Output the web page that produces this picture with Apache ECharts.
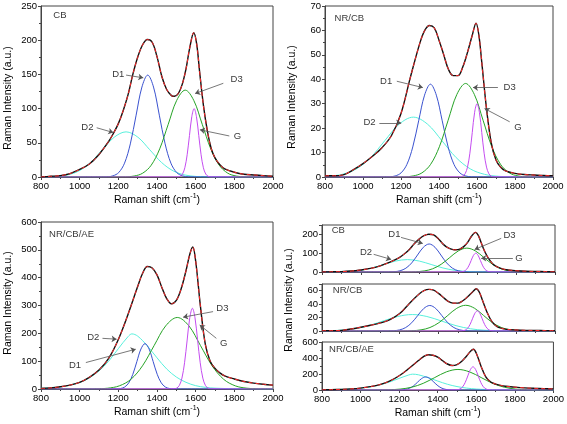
<!DOCTYPE html>
<html><head><meta charset="utf-8">
<script src="https://cdn.jsdelivr.net/npm/echarts/dist/echarts.min.js"></script>
<style>html,body{margin:0;padding:0;background:#fff}#c{width:567px;height:424px}</style>
</head><body><div id="c"></div>
<script>
// ---------- CB ----------
const cbD2 = [[800,0],[813,0.15],[874,0.73],[935,2.9],[996,8.9],[1057,21.4],[1118,40.0],[1179,58.2],[1240,66],[1301,58.2],[1362,40.0],[1423,21.4],[1484,8.9],[1545,2.9],[1606,0.73],[1667,0.15],[2000,0]];
const cbD1 = [[800,0],[1142,0.33],[1172,1.65],[1202,6.5],[1232,20.2],[1262,48.4],[1292,90.4],[1322,131.5],[1352,149],[1382,131.5],[1412,90.4],[1442,48.4],[1472,20.2],[1502,6.5],[1532,1.65],[1562,0.33],[2000,0]];
const cbD3 = [[800,0],[1238,0.28],[1282,1.41],[1326,5.6],[1370,17.2],[1414,41.2],[1458,77.0],[1502,112.1],[1546,127],[1590,112.1],[1634,77.0],[1678,41.2],[1722,17.2],[1766,5.6],[1810,1.41],[1854,0.28],[2000,0]];
const cbG = [[800,0],[1508,0.22],[1520,1.11],[1532,4.39],[1544,13.5],[1556,32.5],[1568,60.7],[1580,88.3],[1592,100],[1604,88.3],[1616,60.7],[1628,32.5],[1640,13.5],[1652,4.39],[1664,1.11],[1676,0.22],[2000,0]];
const cbSpectrum = [[800,0],[850,1],[900,2],[950,5],[1000,11],[1050,19],[1100,33],[1150,52],[1175,64],[1200,78],[1225,97],[1250,120],[1275,150],[1300,175],[1325,193],[1350,201],[1375,197],[1400,176],[1425,147],[1450,128],[1475,119],[1490,118],[1510,122],[1530,135],[1550,158],[1570,190],[1590,211],[1605,195],[1620,155],[1640,105],[1660,68],[1680,42],[1700,28],[1725,18],[1750,12],[1800,7],[1850,4],[1900,3],[1950,2],[2000,1]];

// ---------- NR/CB ----------
const nrD2 = [[800,0.2],[815,0.27],[890,1.08],[965,3.31],[1040,7.96],[1115,14.9],[1190,21.6],[1265,24.5],[1340,21.6],[1415,14.9],[1490,7.96],[1565,3.31],[1640,1.08],[1715,0.27],[1790,0.05],[2000,0]];
const nrD1 = [[800,0],[1138,0.08],[1169,0.42],[1200,1.67],[1231,5.14],[1262,12.3],[1293,23.0],[1324,33.5],[1355,38],[1386,33.5],[1417,23.0],[1448,12.3],[1479,5.14],[1510,1.67],[1541,0.42],[1572,0.08],[2000,0]];
const nrD3 = [[800,0],[1218,0.08],[1264,0.43],[1310,1.68],[1356,5.18],[1402,12.4],[1448,23.2],[1494,33.8],[1540,38.3],[1586,33.8],[1632,23.2],[1678,12.4],[1724,5.18],[1770,1.68],[1816,0.43],[1862,0.08],[2000,0]];
const nrG = [[800,0],[1512.5,0.07],[1525,0.33],[1537.5,1.32],[1550,4.06],[1562.5,9.74],[1575,18.2],[1587.5,26.5],[1600,30],[1612.5,26.5],[1625,18.2],[1637.5,9.74],[1650,4.06],[1662.5,1.32],[1675,0.33],[1687.5,0.07],[2000,0]];
const nrSpectrum = [[800,0.5],[850,0.5],[900,1],[950,3],[1000,5.5],[1050,8.5],[1100,12],[1150,17],[1200,26],[1250,41],[1300,55],[1325,60],[1350,62],[1375,61],[1400,56],[1425,50],[1450,44],[1475,41.5],[1500,41.5],[1525,45],[1550,51],[1575,58],[1595,63],[1610,58],[1625,47],[1650,28],[1675,14],[1700,7],[1725,4],[1750,2.5],[1800,1.5],[1850,1],[1900,0.8],[1950,0.6],[2000,0.5]];

// ---------- NR/CB/AE ----------
const aeD2 = [[800,3],[850,5],[900,8],[950,14],[1000,24],[1050,40],[1100,65],[1150,100],[1200,145],[1250,188],[1270,198],[1300,190],[1350,155],[1400,112],[1450,72],[1500,43],[1550,24],[1600,12],[1650,6],[1700,3],[1800,1],[2000,0]];
const aeD1 = [[800,0],[1191,0.36],[1212,1.81],[1233,7.16],[1254,22.1],[1275,52.9],[1296,98.9],[1317,143.8],[1338,163],[1359,143.8],[1380,98.9],[1401,52.9],[1422,22.1],[1443,7.16],[1464,1.81],[1485,0.36],[2000,0]];
const aeD3 = [[800,0],[1085,0.57],[1145,2.85],[1205,11.3],[1265,34.8],[1325,83.4],[1385,155.9],[1445,226.8],[1505,257],[1565,226.8],[1625,155.9],[1685,83.4],[1745,34.8],[1805,11.3],[1865,2.85],[1925,0.57],[2000,0]];
const aeG = [[800,0],[1488.5,0.64],[1502,3.22],[1515.5,12.7],[1529,39.2],[1542.5,94.2],[1556,175.9],[1569.5,255.9],[1583,290],[1596.5,255.9],[1610,175.9],[1623.5,94.2],[1637,39.2],[1650.5,12.7],[1664,3.22],[1677.5,0.64],[2000,0]];
const aeSpectrum = [[800,2],[850,4],[900,8],[950,14],[1000,24],[1050,42],[1100,68],[1150,110],[1200,178],[1250,268],[1300,368],[1325,415],[1350,440],[1375,435],[1400,410],[1425,365],[1450,325],[1475,306],[1500,318],[1525,360],[1550,425],[1570,485],[1585,510],[1600,460],[1625,295],[1650,160],[1675,100],[1700,74],[1725,58],[1750,47],[1800,36],[1850,27],[1900,21],[1950,17],[2000,14]];

// axis ranges / tick labels
const xMin = 800, xMax = 2000, xStep = 200;
const yMax = [250, 70, 600, 250, 70, 600];
const yStep = [50, 10, 100, 100, 20, 200];

// annotation texts (label anchor and arrow in data units)
const notesTL = [
  {t:'CB', at:[898,236]},
  {t:'D1', at:[1200,150], from:[1240,149], to:[1329,145]},
  {t:'D2', at:[1040,73], from:[1088,72], to:[1174,65]},
  {t:'D3', at:[1812,142], from:[1743,137], to:[1597,122]},
  {t:'G', at:[1816,59.5], from:[1774,60], to:[1622,69]}
];
const notesTR = [
  {t:'NR/CB', at:[928,64.8]},
  {t:'D1', at:[1122,39], from:[1178,39.2], to:[1315,36.6]},
  {t:'D2', at:[1034,22.2], from:[1086,22.2], to:[1201,22.2]},
  {t:'D3', at:[1772,36.6], from:[1710,36.6], to:[1579,36.6]},
  {t:'G', at:[1816,20.3], from:[1772,22.6], to:[1640,28]}
];
const notesBL = [
  {t:'NR/CB/AE', at:[958,554]},
  {t:'D2', at:[1070,186], from:[1118,182], to:[1191,179]},
  {t:'D1', at:[976,86], from:[1032,95], to:[1290,143]},
  {t:'D3', at:[1738,290], from:[1690,278], to:[1535,258]},
  {t:'G', at:[1745,164], from:[1707,182], to:[1621,230]}
];
const notesBR1 = [
  {t:'CB', at:[884,219]},
  {t:'D1', at:[1173,200], from:[1207,184], to:[1319,152]},
  {t:'D2', at:[1027,104], from:[1066,94], to:[1156,67]},
  {t:'D3', at:[1766,196], from:[1723,179], to:[1586,120]},
  {t:'G', at:[1814,73], from:[1783,73], to:[1620,73]}
];
const notesBR2 = [{t:'NR/CB', at:[932,61]}];
const notesBR3 = [{t:'NR/CB/AE', at:[953,512]}];

const FONT = '"Liberation Sans", Arial, sans-serif';
const AX = '#444';
const grids = [
  {left:41, top:6, width:232, height:171},
  {left:325, top:6, width:228, height:171},
  {left:41, top:222, width:232, height:167},
  {left:322, top:225, width:233, height:47},
  {left:322, top:284, width:233, height:47},
  {left:322, top:342, width:233, height:48}
].map(g => Object.assign(g, {show:true, borderColor:AX, borderWidth:1, backgroundColor:'transparent'}));

const xName = 'Raman shift (cm{sup|-1})';
const xAxes = grids.map((g, i) => ({
  type:'value', gridIndex:i, min:xMin, max:xMax, interval:xStep,
  axisLine:{lineStyle:{color:AX}},
  axisTick:{length:3, lineStyle:{color:AX}},
  minorTick:{show:true, splitNumber:2, length:2, lineStyle:{color:AX}},
  splitLine:{show:false},
  axisLabel:{show: i !== 3 && i !== 4, fontSize:9.5, color:'#000', margin:4, fontFamily:FONT,
    formatter: v => String(v)},
  name: (i === 3 || i === 4) ? '' : xName,
  nameLocation:'middle', nameGap:16,
  nameTextStyle:{fontSize:10.5, color:'#000', fontFamily:FONT, lineHeight:14,
    rich:{sup:{fontSize:7, fontFamily:FONT, color:'#000', verticalAlign:'top', lineHeight:8}}}
}));
const yAxes = grids.map((g, i) => ({
  type:'value', gridIndex:i, min:0, max:yMax[i], interval:yStep[i],
  axisLine:{show:true, lineStyle:{color:AX}},
  axisTick:{show:true, length:3, lineStyle:{color:AX}},
  minorTick:{show:true, splitNumber:2, length:2, lineStyle:{color:AX}},
  splitLine:{show:false},
  axisLabel:{fontSize:9.5, color:'#000', margin:4, fontFamily:FONT,
    formatter: v => (Math.abs(v % yStep[i]) < 1e-9 ? String(v) : '')}
}));

const COL = {d2:'#58f0dc', d1:'#3a52cf', d3:'#26a326', g:'#c44cf0'};
function line(i, data, color, extra) {
  return Object.assign({type:'line', xAxisIndex:i, yAxisIndex:i, data, showSymbol:false, symbol:'none',
    smooth:0.35, lineStyle:{color, width:1}, silent:true, z:2}, extra || {});
}
function panel(i, d2, d1, d3, g, spec, notes) {
  return [
    line(i, d2, COL.d2), line(i, d1, COL.d1), line(i, d3, COL.d3), line(i, g, COL.g),
    line(i, spec, '#000', {lineStyle:{color:'#111', width:1.4}, z:3}),
    line(i, spec, '#f00', {lineStyle:{color:'#ff2a2a', width:1, type:[4,3]}, z:4}),
    {type:'scatter', xAxisIndex:i, yAxisIndex:i, symbolSize:1, itemStyle:{color:'rgba(0,0,0,0)'}, silent:true, z:6,
      data: notes.map(n => ({value:n.at, label:{formatter:n.t}})),
      label:{show:true, position:'inside', color:'#000', fontSize:9.5, fontFamily:FONT},
      markLine:{silent:true, symbol:['none','arrow'], symbolSize:5, label:{show:false},
        lineStyle:{color:'#555', width:0.8, type:'solid'},
        emphasis:{disabled:true},
        data: notes.filter(n => n.from).map(n => [{coord:n.from}, {coord:n.to}])}}
  ];
}

const yTitle = (x, y) => ({type:'text', x, y, rotation:Math.PI/2,
  style:{text:'Raman Intensity (a.u.)', fontSize:10.5, fontFamily:FONT, fill:'#000', align:'center', verticalAlign:'middle'}});

const chart = echarts.init(document.getElementById('c'), null, {renderer:'canvas'});
chart.setOption({
  animation:false,
  backgroundColor:'#fff',
  grid:grids, xAxis:xAxes, yAxis:yAxes,
  graphic:[yTitle(8,98), yTitle(292,97), yTitle(8,303), yTitle(289,300)],
  series:[].concat(
    panel(0, cbD2, cbD1, cbD3, cbG, cbSpectrum, notesTL),
    panel(1, nrD2, nrD1, nrD3, nrG, nrSpectrum, notesTR),
    panel(2, aeD2, aeD1, aeD3, aeG, aeSpectrum, notesBL),
    panel(3, cbD2, cbD1, cbD3, cbG, cbSpectrum, notesBR1),
    panel(4, nrD2, nrD1, nrD3, nrG, nrSpectrum, notesBR2),
    panel(5, aeD2, aeD1, aeD3, aeG, aeSpectrum, notesBR3)
  )
});
</script>
</body></html>
